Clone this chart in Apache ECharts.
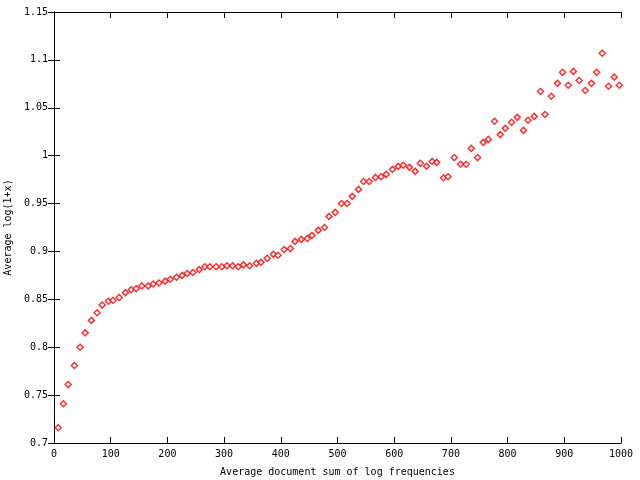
<!DOCTYPE html>
<html><head><meta charset="utf-8">
<script src="https://cdn.jsdelivr.net/npm/echarts@6/dist/echarts.min.js"></script>
<style>html,body{margin:0;padding:0;background:#fff}#c{width:640px;height:480px}</style>
</head><body><div id="c"></div>
<script>
const xs=[7.6,16.5,25,36,46,55,66,76,85,96,104,115,126,136,145,155,166,175,185,196,205,216,226,235,245,256,266,275,286,296,305,315,325,334,345,357,365,376,387,395,406,417,425,436,447,455,466,477,485,496,507,517,526,537,546,556,567,577,586,597,607,616,627,637,646,657,667,675,687,695,706,717,727,736,747,757,766,777,787,796,807,817,828,836,847,858,866,877,888,897,907,916,926,937,948,957,967,978,988,997];
const ys=[0.716,0.741,0.761,0.781,0.800,0.815,0.828,0.836,0.844,0.848,0.849,0.852,0.857,0.860,0.861,0.864,0.864,0.866,0.867,0.869,0.871,0.873,0.875,0.877,0.878,0.881,0.884,0.884,0.884,0.884,0.885,0.885,0.884,0.886,0.885,0.8876,0.8886,0.8928,0.897,0.896,0.902,0.903,0.9105,0.9126,0.9136,0.9168,0.922,0.925,0.9366,0.9408,0.950,0.950,0.9575,0.9648,0.973,0.973,0.9773,0.978,0.9805,0.9857,0.9888,0.990,0.9878,0.9836,0.992,0.989,0.994,0.993,0.977,0.978,0.998,0.991,0.991,1.0076,0.998,1.0139,1.017,1.036,1.022,1.0285,1.0348,1.040,1.0264,1.037,1.041,1.067,1.043,1.062,1.0755,1.087,1.0735,1.088,1.0785,1.068,1.0755,1.087,1.107,1.0725,1.082,1.0735];
const font={fontFamily:'DejaVu Sans Mono',fontSize:10,color:'#000'};
const line={show:true,lineStyle:{color:'#000',width:1}};
const tick={show:true,inside:true,length:6,lineStyle:{color:'#000'}};
const chart=echarts.init(document.getElementById('c'),null,{renderer:'canvas'});
chart.setOption({
  animation:false,
  grid:{left:54,right:19,top:12,bottom:37,containLabel:false,outerBoundsMode:'none'},
  xAxis:[{type:'value',min:0,max:1000,interval:100,axisLine:line,axisTick:tick,splitLine:{show:false},
    axisLabel:Object.assign({margin:6,formatter:v=>String(v)},font),name:'Average document sum of log frequencies',nameLocation:'middle',nameGap:24,nameTextStyle:font},
    {type:'value',position:'top',min:0,max:1000,interval:100,axisLine:line,axisTick:tick,axisLabel:{show:false},splitLine:{show:false}}],
  yAxis:[{type:'value',min:0.7,max:1.15,interval:0.05,axisLine:line,axisTick:tick,splitLine:{show:false},
    axisLabel:Object.assign({margin:6,formatter:v=>String(+v.toFixed(2))},font),
    name:'Average log(1+x)',nameLocation:'middle',nameGap:40,nameTextStyle:font},
    {type:'value',position:'right',min:0.7,max:1.15,interval:0.05,axisLine:line,axisTick:tick,axisLabel:{show:false},splitLine:{show:false}}],
  series:[{type:'scatter',symbol:'diamond',symbolSize:6,
    itemStyle:{color:'#fff',borderColor:'#f00',borderWidth:1.5},
    data:xs.map((x,i)=>[x,ys[i]])}]
});
</script></body></html>
